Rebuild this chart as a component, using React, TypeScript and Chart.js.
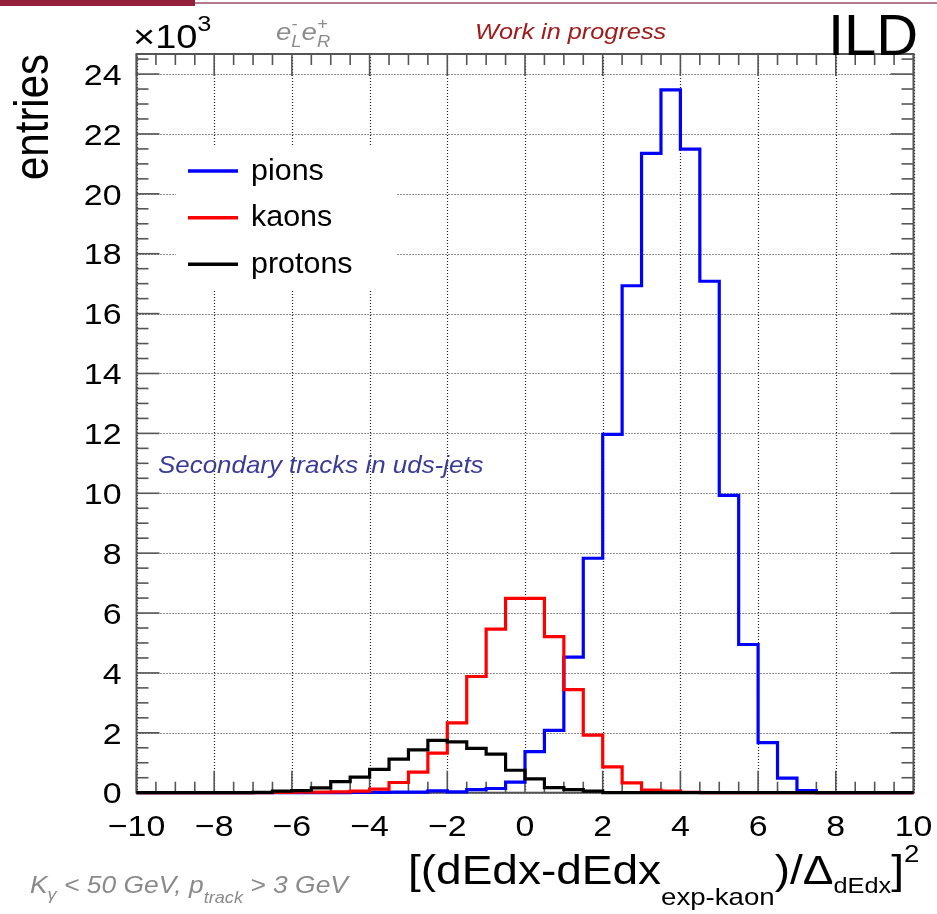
import React, { useEffect, useRef } from 'react';
import { Chart, registerables } from 'chart.js';

Chart.register(...registerables);

// ---- data (thousands of entries per 0.5-wide bin, from -10 to 10) ----
const BIN_LOW = -10;
const BIN_WIDTH = 0.5;

const PIONS = [
  0, 0, 0, 0, 0, 0, 0, 0, 0, 0, 0,
  0.01, 0.01, 0.02, 0.02, 0.06, 0.03, 0.10, 0.14, 0.35,
  1.37, 2.08, 4.53, 7.83, 11.97, 16.93, 21.35, 23.47, 21.49, 17.08,
  9.93, 4.95, 1.67, 0.49, 0.07, 0, 0, 0, 0, 0,
];
const KAONS = [
  0, 0, 0, 0, 0, 0, 0,
  0.01, 0.02, 0.02, 0.03, 0.05, 0.12, 0.34, 0.69, 1.32, 2.33,
  3.88, 5.46, 6.49, 6.49, 5.21, 3.44, 1.92, 0.86, 0.33, 0.09,
  0.05, 0.01,
  0, 0, 0, 0, 0, 0, 0, 0, 0, 0, 0,
];
const PROTONS = [
  0, 0, 0, 0, 0, 0,
  0.01, 0.05, 0.07, 0.16, 0.37, 0.52, 0.78, 1.12, 1.43, 1.75, 1.70, 1.48, 1.29,
  0.75, 0.46, 0.17, 0.10, 0.05,
  0, 0, 0, 0, 0, 0, 0, 0, 0, 0, 0, 0, 0, 0, 0, 0,
];

const SERIES_NAMES = ['pions', 'kaons', 'protons'];
const SERIES_VALUES = [PIONS, KAONS, PROTONS];
const SERIES_COLORS = ['#0000ff', '#ff0000', '#000000'];

const X_TICKS = [-10, -8, -6, -4, -2, 0, 2, 4, 6, 8, 10];
const X_TICK_LABELS = ['\u221210', '\u22128', '\u22126', '\u22124', '\u22122', '0', '2', '4', '6', '8', '10'];
const Y_TICKS = [0, 2, 4, 6, 8, 10, 12, 14, 16, 18, 20, 22, 24];
const Y_TICK_LABELS = ['0', '2', '4', '6', '8', '10', '12', '14', '16', '18', '20', '22', '24'];
const X_MIN = -10;
const X_MAX = 10;
const Y_MIN = 0;
const Y_MAX = 24.67;

const FONT = '"Liberation Sans", Arial, Helvetica, sans-serif';

type Seg = { t: string; size: number; dy?: number; italic?: boolean; stack?: boolean };

function drawRich(ctx: CanvasRenderingContext2D, segs: Seg[], x: number, y: number, sx: number, color: string) {
  let cx = x;
  let stackW = 0;
  for (const s of segs) {
    ctx.font = `${s.italic ? 'italic ' : ''}${s.size}px ${FONT}`;
    const w = ctx.measureText(s.t).width * sx;
    ctx.save();
    ctx.translate(cx, y + (s.dy || 0));
    ctx.scale(sx, 1);
    ctx.fillStyle = color;
    ctx.textAlign = 'left';
    ctx.textBaseline = 'alphabetic';
    ctx.fillText(s.t, 0, 0);
    ctx.restore();
    if (s.stack) {
      stackW = Math.max(stackW, w);
    } else {
      cx += Math.max(w, stackW);
      stackW = 0;
    }
  }
  return cx;
}

function drawText(ctx: CanvasRenderingContext2D, t: string, x: number, y: number, size: number, sx: number, color: string, align: CanvasTextAlign = 'left', italic = false) {
  ctx.save();
  ctx.font = `${italic ? 'italic ' : ''}${size}px ${FONT}`;
  ctx.translate(x, y);
  ctx.scale(sx, 1);
  ctx.fillStyle = color;
  ctx.textAlign = align;
  ctx.textBaseline = 'alphabetic';
  ctx.fillText(t, 0, 0);
  ctx.restore();
}

function minorValues(major: number[], sub: number, max: number) {
  const out: number[] = [];
  const step = major[1] - major[0];
  for (let i = 0; i < major.length; i++) {
    for (let k = 1; k < sub; k++) {
      const v = major[i] + (step * k) / sub;
      if (v <= max) out.push(v);
    }
  }
  return out;
}

const rootStyle = {
  id: 'rootStyle',
  beforeDatasetsDraw(chart: any) {
    const { ctx, chartArea: a, scales } = chart;
    const xs = scales.x;
    const ys = scales.y;
    ctx.save();
    // grid
    ctx.strokeStyle = '#222222';
    ctx.lineWidth = 1.2;
    ctx.setLineDash([1, 2]);
    for (const v of X_TICKS) {
      const px = Math.round(xs.getPixelForValue(v)) + 0.5;
      ctx.beginPath();
      ctx.moveTo(px, a.top);
      ctx.lineTo(px, a.bottom);
      ctx.stroke();
    }
    for (const v of Y_TICKS) {
      const py = Math.round(ys.getPixelForValue(v)) + 0.5;
      ctx.beginPath();
      ctx.moveTo(a.left, py);
      ctx.lineTo(a.right, py);
      ctx.stroke();
    }
    ctx.setLineDash([]);
    // ticks
    ctx.strokeStyle = '#555555';
    ctx.lineWidth = 1.6;
    const xMinor = minorValues(X_TICKS, 4, X_MAX);
    const yMinor = minorValues(Y_TICKS, 4, Y_MAX);
    const tick = (x1: number, y1: number, x2: number, y2: number) => {
      ctx.beginPath();
      ctx.moveTo(x1, y1);
      ctx.lineTo(x2, y2);
      ctx.stroke();
    };
    for (const v of X_TICKS) {
      const px = xs.getPixelForValue(v);
      tick(px, a.bottom, px, a.bottom - 22);
      tick(px, a.top, px, a.top + 22);
    }
    for (const v of xMinor) {
      const px = xs.getPixelForValue(v);
      tick(px, a.bottom, px, a.bottom - 11);
      tick(px, a.top, px, a.top + 11);
    }
    for (const v of Y_TICKS) {
      const py = ys.getPixelForValue(v);
      tick(a.left, py, a.left + 23, py);
      tick(a.right, py, a.right - 23, py);
    }
    for (const v of yMinor) {
      const py = ys.getPixelForValue(v);
      tick(a.left, py, a.left + 12, py);
      tick(a.right, py, a.right - 12, py);
    }
    // frame
    ctx.lineWidth = 2;
    ctx.strokeRect(a.left, a.top, a.right - a.left, a.bottom - a.top);
    ctx.restore();
  },
  afterDatasetsDraw(chart: any) {
    const { ctx, chartArea: a, scales } = chart;
    const xs = scales.x;
    const ys = scales.y;
    ctx.save();

    // legend (white box, no border)
    ctx.fillStyle = '#ffffff';
    ctx.fillRect(176, 147, 220, 144);
    const legendY = [171, 217.7, 264.3];
    SERIES_NAMES.forEach((name, i) => {
      ctx.strokeStyle = SERIES_COLORS[i];
      ctx.lineWidth = 3.5;
      ctx.beginPath();
      ctx.moveTo(188, legendY[i]);
      ctx.lineTo(238, legendY[i]);
      ctx.stroke();
      drawText(ctx, name, 251, legendY[i] + 8.5, 29, 1.05, '#000000');
    });

    // tick labels
    X_TICKS.forEach((v, i) => {
      drawText(ctx, X_TICK_LABELS[i], xs.getPixelForValue(v), a.bottom + 43, 30, 1.13, '#000000', 'center');
    });
    Y_TICKS.forEach((v, i) => {
      drawText(ctx, Y_TICK_LABELS[i], a.left - 15, ys.getPixelForValue(v) + 10.7, 30, 1.13, '#000000', 'right');
    });

    // y title
    ctx.save();
    ctx.translate(48, 180);
    ctx.rotate(-Math.PI / 2);
    ctx.scale(1, 1.15);
    ctx.font = `42px ${FONT}`;
    ctx.fillStyle = '#000000';
    ctx.textAlign = 'left';
    ctx.textBaseline = 'alphabetic';
    ctx.fillText('entries', 0, 0);
    ctx.restore();

    // x title
    drawRich(ctx, [
      { t: '[(dEdx-dEdx', size: 40 },
      { t: 'exp-kaon', size: 24, dy: 21 },
      { t: ')/\u0394', size: 40 },
      { t: 'dEdx', size: 22, dy: 9 },
      { t: ']', size: 40 },
      { t: '2', size: 24, dy: -22 },
    ], 408, 884, 1.15, '#000000');

    // x10^3
    drawRich(ctx, [
      { t: '\u00d710', size: 33 },
      { t: '3', size: 22, dy: -17 },
    ], 133, 48, 1.15, '#000000');

    // beam polarisation
    drawRich(ctx, [
      { t: 'e', size: 24, italic: true },
      { t: '-', size: 16, dy: -11, italic: true, stack: true },
      { t: 'L', size: 16, dy: 7, italic: true },
      { t: 'e', size: 24, italic: true },
      { t: '+', size: 16, dy: -11, italic: true, stack: true },
      { t: 'R', size: 16, dy: 7, italic: true },
    ], 276, 40, 1.15, '#8c8c8c');

    drawText(ctx, 'Work in progress', 475, 39, 22, 1.15, '#a01c1c', 'left', true);
    drawText(ctx, 'ILD', 828, 55, 58, 1.0, '#000000');

    drawText(ctx, 'Secondary tracks in uds-jets', 158, 473, 24, 1.08, '#3b3b98', 'left', true);

    drawRich(ctx, [
      { t: 'K', size: 24, italic: true },
      { t: '\u03b3', size: 16.5, dy: 7, italic: true },
      { t: ' < 50 GeV, p', size: 24, italic: true },
      { t: 'track', size: 16.5, dy: 10, italic: true },
      { t: ' > 3 GeV', size: 24, italic: true },
    ], 30, 893, 1.1, '#8a8a8a');

    ctx.restore();
  },
  beforeDraw(chart: any) {
    const { ctx } = chart;
    ctx.save();
    ctx.fillStyle = '#ffffff';
    ctx.fillRect(0, 0, chart.width, chart.height);
    // top decorative bar
    ctx.fillStyle = '#b27a8a';
    ctx.fillRect(0, 2, chart.width, 2);
    ctx.fillStyle = '#96203c';
    ctx.fillRect(0, 0, 195, 6);
    ctx.restore();
  },
};

function toSteps(values: number[]) {
  const pts = values.map((v, i) => ({ x: BIN_LOW + i * BIN_WIDTH, y: v }));
  pts.push({ x: BIN_LOW + values.length * BIN_WIDTH, y: values[values.length - 1] });
  return pts;
}

export default function App() {
  const ref = useRef<HTMLCanvasElement | null>(null);
  useEffect(() => {
    if (!ref.current) return;
    const chart = new Chart(ref.current, {
      type: 'line',
      data: {
        datasets: SERIES_NAMES.map((name, i) => ({
          label: name,
          data: toSteps(SERIES_VALUES[i]),
          borderColor: SERIES_COLORS[i],
          backgroundColor: SERIES_COLORS[i],
          borderWidth: 3.2,
          pointRadius: 0,
          stepped: true,
          fill: false,
          clip: 6,
          order: 3 - i,
        })) as any,
      },
      options: {
        animation: false,
        responsive: false,
        devicePixelRatio: 1,
        layout: { padding: { left: 136.5, right: 23.5, top: 54, bottom: 121.3 } },
        scales: {
          x: { type: 'linear', min: X_MIN, max: X_MAX, display: false },
          y: { type: 'linear', min: Y_MIN, max: Y_MAX, display: false },
        },
        plugins: { legend: { display: false }, tooltip: { enabled: false } },
      },
      plugins: [rootStyle as any],
    });
    return () => chart.destroy();
  }, []);
  return (
    <div style={{ position: 'fixed', left: 0, top: 0, width: 937, height: 914, background: '#fff' }}>
      <canvas ref={ref} width={937} height={914} style={{ width: 937, height: 914, display: 'block' }} />
    </div>
  );
}
